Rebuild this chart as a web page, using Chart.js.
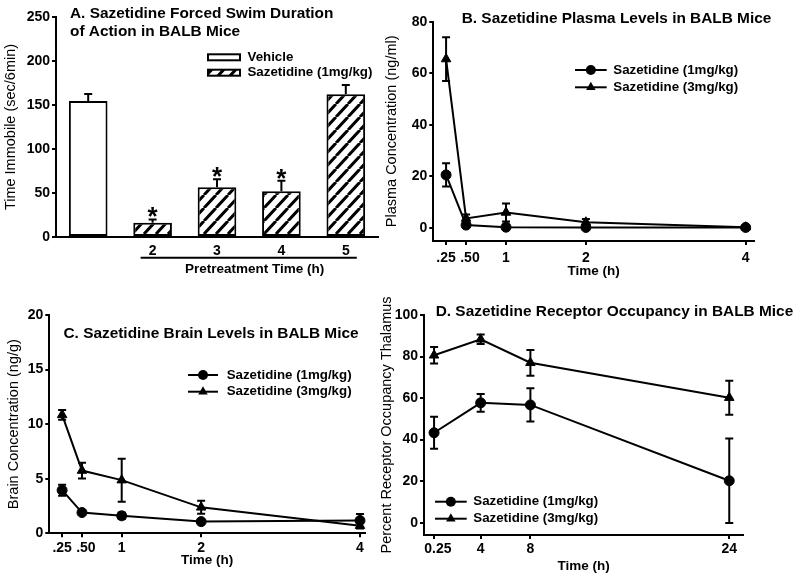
<!DOCTYPE html>
<html>
<head>
<meta charset="utf-8">
<script src="https://cdn.jsdelivr.net/npm/chart.js@4.4.1/dist/chart.umd.min.js"></script>
<style>
body { margin: 0; background: #fff; }
#wrap { position: relative; width: 800px; height: 579px; }
#wrap canvas { position: absolute; left: 0; top: 0; }
</style>
</head>
<body>
<div id="wrap">
<canvas id="cA" width="800" height="579"></canvas>
<canvas id="cB" width="800" height="579"></canvas>
<canvas id="cC" width="800" height="579"></canvas>
<canvas id="cD" width="800" height="579"></canvas>
</div>
<script>
// A. forced swim
var swimLabels = ["", "2", "3", "4", "5"];
var swimValues = [154.5, 16.3, 56.5, 52, 162.2];
var swimErrors = [8, 3.7, 9, 12, 10.5];
var swimStars = [false, true, true, true, false];
var swimTicks = [0, 50, 100, 150, 200, 250];

// B. plasma
var plasmaTimes = [0.25, 0.5, 1, 2, 4];
var plasmaTimeLabels = [".25", "  .50", "1", "2", "4"];
var plasma1 = [20.5, 1.0, 0.2, 0.1, 0.1];
var plasma1Err = [4.5, 0.8, 1.0, 0.5, 0.2];
var plasma3 = [65.5, 3.6, 5.9, 2.1, 0.2];
var plasma3Err = [8.5, 1.5, 3.5, 1.3, 0.3];
var plasmaTicks = [0, 20, 40, 60, 80];

// C. brain
var brainTimes = [0.25, 0.5, 1, 2, 4];
var brainTimeLabels = [".25", "  .50", "1", "2", "4"];
var brain1 = [3.95, 1.9, 1.6, 1.07, 1.17];
var brain1Err = [0.5, 0.15, 0.3, 0.15, 0.6];
var brain3 = [10.85, 5.75, 4.87, 2.38, 0.7];
var brain3Err = [0.45, 0.72, 1.97, 0.6, 0.25];
var brainTicks = [0, 5, 10, 15, 20];

// D. receptor occupancy
var occTimes = [0.25, 4, 8, 24];
var occTimeLabels = ["  0.25", "4", "8", "24"];
var occ1 = [43.3, 57.7, 56.7, 20.2];
var occ1Err = [7.7, 4.3, 8, 20.4];
var occ3 = [80.6, 88.3, 77, 60.2];
var occ3Err = [4, 2.3, 6.2, 8.2];
var occTicks = [0, 20, 40, 60, 80, 100];

var seriesNames = ["Sazetidine (1mg/kg)", "Sazetidine (3mg/kg)"];
var barNames = ["Vehicle", "Sazetidine (1mg/kg)"];

var FAM = "'Liberation Sans', Arial, Helvetica, sans-serif";
Chart.defaults.font.family = FAM;
Chart.defaults.color = "#000";

function drawMarker(ctx, style, x, y, r) {
	ctx.beginPath();
	if (style == "triangle") {
		var a = 0;
		ctx.moveTo(x + Math.sin(a) * r, y - Math.cos(a) * r);
		a += Math.PI * 2 / 3;
		ctx.lineTo(x + Math.sin(a) * r, y - Math.cos(a) * r);
		a += Math.PI * 2 / 3;
		ctx.lineTo(x + Math.sin(a) * r, y - Math.cos(a) * r);
		ctx.closePath();
	} else {
		ctx.arc(x, y, r, 0, Math.PI * 2);
	}
	ctx.fillStyle = "#000";
	ctx.fill();
}

function hatch(ctx) {
	var c = document.createElement("canvas");
	c.width = 12; c.height = 13;
	var g = c.getContext("2d");
	g.fillStyle = "#fff";
	g.fillRect(0, 0, 12, 13);
	g.strokeStyle = "#000";
	g.lineWidth = 3;
	g.beginPath();
	[-12, 0, 12].forEach(function (dx) { g.moveTo(dx, 13); g.lineTo(dx + 12, 0); });
	g.stroke();
	return ctx.createPattern(c, "repeat");
}

var errorBars = {
	id: "errorBars",
	afterDatasetsDraw: function (chart) {
		var ctx = chart.ctx, ys = chart.scales.y;
		chart.data.datasets.forEach(function (ds, i) {
			if (!ds.errors) return;
			var meta = chart.getDatasetMeta(i);
			meta.data.forEach(function (el, j) {
				var v = typeof ds.data[j] == "object" ? ds.data[j].y : ds.data[j];
				var e = ds.errors[j];
				var top = ys.getPixelForValue(v + e);
				var bot = ds.upOnly ? ys.getPixelForValue(v) : ys.getPixelForValue(v - e);
				ctx.save();
				ctx.strokeStyle = "#000";
				ctx.lineWidth = 2;
				ctx.beginPath();
				ctx.moveTo(el.x, bot); ctx.lineTo(el.x, top);
				ctx.moveTo(el.x - 4, top); ctx.lineTo(el.x + 4, top);
				if (!ds.upOnly) { ctx.moveTo(el.x - 4, bot); ctx.lineTo(el.x + 4, bot); }
				ctx.stroke();
				ctx.restore();
			});
		});
	}
};

var panelText = {
	id: "panelText",
	afterDraw: function (chart, args, opts) {
		var ctx = chart.ctx;
		(opts.items || []).forEach(function (t) {
			ctx.save();
			ctx.font = t.font || ("bold 15.4px " + FAM);
			ctx.fillStyle = "#000";
			ctx.textAlign = t.align || "left";
			ctx.textBaseline = "middle";
			ctx.fillText(t.text, t.x, t.y);
			ctx.restore();
		});
	}
};

var lineLegend = {
	id: "lineLegend",
	afterDraw: function (chart, args, opts) {
		if (!opts.x) return;
		var ctx = chart.ctx;
		chart.data.datasets.forEach(function (ds, i) {
			var y = opts.y + i * opts.dy;
			ctx.save();
			ctx.strokeStyle = "#000";
			ctx.lineWidth = 2;
			ctx.beginPath();
			ctx.moveTo(opts.x, y); ctx.lineTo(opts.x + opts.len, y);
			ctx.stroke();
			drawMarker(ctx, ds.pointStyle, opts.x + opts.len / 2, y, ds.pointRadius);
			ctx.font = "bold 13.3px " + FAM;
			ctx.textBaseline = "middle";
			ctx.fillText(ds.label, opts.textX, y);
			ctx.restore();
		});
	}
};

Chart.register(errorBars, panelText, lineLegend);

function yAxis(min, max, ticks, width, title) {
	return {
		min: min, max: max, bounds: "data",
		afterFit: function (s) { s.width = width; },
		afterBuildTicks: function (s) { s.ticks = ticks.map(function (v) { return { value: v }; }); },
		grid: { drawOnChartArea: false, drawTicks: true, tickLength: 4, color: "#000", lineWidth: 2 },
		border: { color: "#000", width: 2 },
		ticks: { font: { size: 14, weight: "bold" }, padding: 2, color: "#000" },
		title: { display: true, text: title, font: { size: 14.5 }, padding: 0, color: "#000" }
	};
}

function xAxis(min, max, ticks, labels, height, pad) {
	return {
		type: "linear", min: min, max: max, bounds: "data",
		afterFit: function (s) { s.height = height; },
		afterBuildTicks: function (s) { s.ticks = ticks.map(function (v) { return { value: v }; }); },
		grid: { drawOnChartArea: false, drawTicks: true, tickLength: 4, color: "#000", lineWidth: 2 },
		border: { color: "#000", width: 2 },
		ticks: {
			autoSkip: false, maxRotation: 0, font: { size: 14, weight: "bold" }, padding: pad, color: "#000",
			callback: function (v, i) { return labels[i]; }
		},
		title: { display: true, text: "Time (h)", font: { size: 13.5, weight: "bold" }, padding: 0, color: "#000" }
	};
}

function series(xs, ys, errs, name, style, r) {
	return {
		label: name,
		data: xs.map(function (x, i) { return { x: x, y: ys[i] }; }),
		errors: errs,
		borderColor: "#000", borderWidth: 2,
		pointStyle: style, pointRadius: r, pointBackgroundColor: "#000", pointBorderColor: "#000", pointBorderWidth: 1,
		tension: 0, clip: false
	};
}

function linePanel(id, d) {
	new Chart(document.getElementById(id), {
		type: "line",
		data: { datasets: [
			series(d.xs, d.s1, d.e1, seriesNames[0], "circle", 5),
			series(d.xs, d.s3, d.e3, seriesNames[1], "triangle", 5.5)
		] },
		options: {
			responsive: false, animation: false,
			layout: { padding: d.padding },
			scales: { x: d.x, y: d.y },
			plugins: {
				legend: { display: false }, tooltip: { enabled: false },
				panelText: { items: d.texts },
				lineLegend: d.legend
			}
		}
	});
}

// panel A
var ctxA = document.getElementById("cA").getContext("2d");
var stripes = hatch(ctxA);

var swimExtras = {
	id: "swimExtras",
	afterDraw: function (chart) {
		var ctx = chart.ctx, meta = chart.getDatasetMeta(0), ys = chart.scales.y, xs = chart.scales.x;
		ctx.save();
		ctx.fillStyle = "#000";
		ctx.font = "bold 26px " + FAM;
		ctx.textAlign = "center";
		ctx.textBaseline = "alphabetic";
		meta.data.forEach(function (el, j) {
			if (!swimStars[j]) return;
			var cap = ys.getPixelForValue(swimValues[j] + swimErrors[j]);
			ctx.fillText("*", el.x, cap + 6);
		});
		// underline below the pretreatment times
		var x1 = xs.getPixelForValue(1) - 12, x2 = xs.getPixelForValue(4) + 11;
		ctx.strokeStyle = "#000";
		ctx.lineWidth = 2;
		ctx.beginPath();
		ctx.moveTo(x1, 257.7); ctx.lineTo(x2, 257.7);
		ctx.stroke();
		ctx.font = "bold 13.5px " + FAM;
		ctx.textBaseline = "middle";
		ctx.fillText("Pretreatment Time (h)", (x1 + x2) / 2 + 6, 269.5);
		// legend boxes
		[["#fff", 57.3], [stripes, 72.7]].forEach(function (b, i) {
			ctx.fillStyle = b[0];
			ctx.fillRect(208, b[1] - 3, 32, 6);
			ctx.strokeRect(208, b[1] - 3, 32, 6);
			ctx.fillStyle = "#000";
			ctx.font = "bold 13.3px " + FAM;
			ctx.textAlign = "left";
			ctx.fillText(barNames[i], 247.5, b[1]);
		});
		ctx.restore();
	}
};

new Chart(ctxA, {
	type: "bar",
	data: {
		labels: swimLabels,
		datasets: [{
			data: swimValues,
			errors: swimErrors,
			upOnly: true,
			backgroundColor: swimValues.map(function (v, i) { return i == 0 ? "#fff" : stripes; }),
			borderColor: "#000",
			borderWidth: 2,
			borderSkipped: false,
			barPercentage: 0.6,
			categoryPercentage: 1
		}]
	},
	options: {
		responsive: false, animation: false,
		layout: { padding: { left: 2.6, right: 422, top: 17, bottom: 302 } },
		scales: {
			x: {
				afterFit: function (s) { s.height = 40; },
				grid: { drawOnChartArea: false, drawTicks: false },
				border: { color: "#000", width: 2 },
				ticks: { font: { size: 14, weight: "bold" }, padding: 6, color: "#000" }
			},
			y: yAxis(0, 250, swimTicks, 53.4, "Time Immobile (sec/6min)")
		},
		plugins: {
			legend: { display: false }, tooltip: { enabled: false },
			panelText: { items: [
				{ text: "A. Sazetidine Forced Swim Duration", x: 70, y: 13.5 },
				{ text: "of Action in BALB Mice", x: 70, y: 32 }
			] }
		}
	},
	plugins: [swimExtras]
});

linePanel("cB", {
	xs: plasmaTimes, s1: plasma1, e1: plasma1Err, s3: plasma3, e3: plasma3Err,
	padding: { left: 383.6, right: 46, top: 21.7, bottom: 299.2 },
	x: xAxis(0.09, 4.104, plasmaTimes, plasmaTimeLabels, 38.8, 5),
	y: yAxis(-5.17, 80, plasmaTicks, 49.7, "Plasma Concentration (ng/ml)"),
	texts: [{ text: "B. Sazetidine Plasma Levels in BALB Mice", x: 461.7, y: 19 }],
	legend: { x: 575, len: 31.7, y: 70, dy: 17.3, textX: 613.3 }
});

linePanel("cC", {
	xs: brainTimes, s1: brain1, e1: brain1Err, s3: brain3, e3: brain3Err,
	padding: { left: 5.4, right: 435, top: 315, bottom: 10.2 },
	x: xAxis(0.0885, 4.063, brainTimes, brainTimeLabels, 35.5, 2.6),
	y: yAxis(0, 20, brainTicks, 43.9, "Brain Concentration (ng/g)"),
	texts: [{ text: "C. Sazetidine Brain Levels in BALB Mice", x: 63.5, y: 333.3 }],
	legend: { x: 188, len: 30, y: 375, dy: 16.7, textX: 226.7 }
});

linePanel("cD", {
	xs: occTimes, s1: occ1, e1: occ1Err, s3: occ3, e3: occ3Err,
	padding: { left: 378.3, right: 56.7, top: 315, bottom: 4.9 },
	x: xAxis(-0.56, 25.13, occTimes, occTimeLabels, 39.1, 2),
	y: yAxis(-5.92, 100, occTicks, 45.7, "Percent Receptor Occupancy Thalamus"),
	texts: [{ text: "D. Sazetidine Receptor Occupancy in BALB Mice", x: 435.7, y: 311.7 }],
	legend: { x: 435, len: 31.7, y: 501.7, dy: 17, textX: 473.3 }
});
</script>
</body>
</html>
